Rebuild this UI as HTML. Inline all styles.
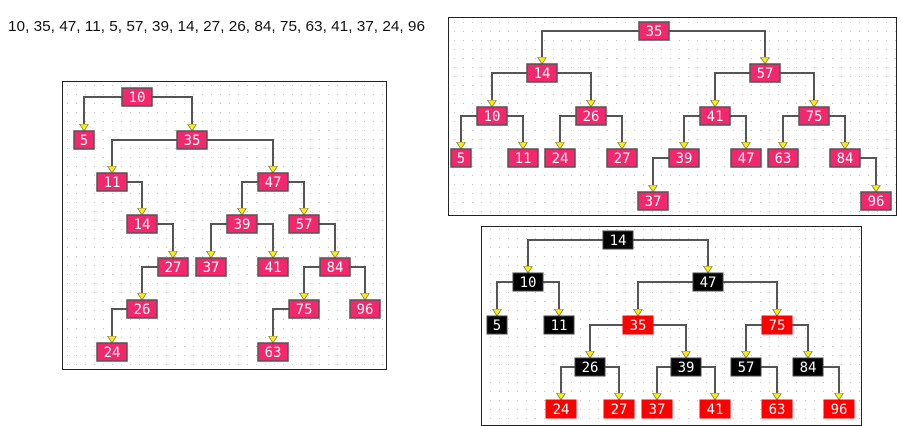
<!DOCTYPE html>
<html><head><meta charset="utf-8"><style>
html,body{margin:0;padding:0;background:#fff;width:902px;height:426px;overflow:hidden}
svg{display:block}
.e{fill:none;stroke:#555;stroke-width:2;marker-end:url(#ar)}
.p rect{fill:#f4266c;stroke:#555;stroke-width:1.5}
.b rect{fill:#000;stroke:#444;stroke-width:1}
.r rect{fill:#ff0000;stroke:#ff0000;stroke-width:1}
text.n{font-family:"DejaVu Sans Mono","Liberation Mono",monospace;font-size:14px;fill:#fff;text-anchor:middle}
</style></head><body>
<svg width="902" height="426" viewBox="0 0 902 426" xmlns="http://www.w3.org/2000/svg">
<defs>
<pattern id="dots" width="9" height="9" patternUnits="userSpaceOnUse"><rect x="4" y="4" width="1" height="1" fill="#c8c8c8"/></pattern>
<marker id="ar" markerUnits="userSpaceOnUse" markerWidth="9" markerHeight="10" refX="7" refY="4.5" orient="auto"><path d="M0,0 L7,4.5 L0,9 z" fill="#ffee00" stroke="#777" stroke-width="0.8"/></marker>
</defs>
<text x="8" y="31" font-family="Liberation Sans, sans-serif" font-size="15" fill="#111" textLength="417" lengthAdjust="spacingAndGlyphs">10, 35, 47, 11, 5, 57, 39, 14, 27, 26, 84, 75, 63, 41, 37, 24, 96</text>

<rect x="62.5" y="81.5" width="324" height="288" fill="url(#dots)" stroke="#222"/>
<rect x="448.5" y="17.5" width="448" height="198" fill="url(#dots)" stroke="#222"/>
<rect x="481.5" y="226.5" width="380" height="199" fill="url(#dots)" stroke="#222"/>

<path class="e" d="M137 97H84V131"/><path class="e" d="M137 97H192V131"/>
<path class="e" d="M192 140H112V173"/><path class="e" d="M192 140H273V173"/>
<path class="e" d="M112 182H142V215"/><path class="e" d="M142 224H173V258"/>
<path class="e" d="M173 267H142V300"/><path class="e" d="M142 309H112V343"/>
<path class="e" d="M273 182H242V215"/><path class="e" d="M273 182H304V215"/>
<path class="e" d="M242 224H211V258"/><path class="e" d="M242 224H273V258"/>
<path class="e" d="M304 224H335V258"/><path class="e" d="M335 267H304V300"/>
<path class="e" d="M335 267H365V300"/><path class="e" d="M304 309H273V343"/>

<path class="e" d="M654 31H542V64"/><path class="e" d="M654 31H765V64"/>
<path class="e" d="M542 73H492V107"/><path class="e" d="M542 73H591V107"/>
<path class="e" d="M492 116H461V149"/><path class="e" d="M492 116H523V149"/>
<path class="e" d="M591 116H560V149"/><path class="e" d="M591 116H622V149"/>
<path class="e" d="M765 73H715V107"/><path class="e" d="M765 73H814V107"/>
<path class="e" d="M715 116H684V149"/><path class="e" d="M715 116H746V149"/>
<path class="e" d="M684 158H653V192"/><path class="e" d="M814 116H783V149"/>
<path class="e" d="M814 116H845V149"/><path class="e" d="M845 158H876V192"/>

<path class="e" d="M618 240H528V273"/><path class="e" d="M618 240H708V273"/>
<path class="e" d="M528 282H497V316"/><path class="e" d="M528 282H559V316"/>
<path class="e" d="M708 282H638V316"/><path class="e" d="M708 282H777V316"/>
<path class="e" d="M638 325H590V358"/><path class="e" d="M638 325H686V358"/>
<path class="e" d="M777 325H746V358"/><path class="e" d="M777 325H808V358"/>
<path class="e" d="M590 367H561V400"/><path class="e" d="M590 367H619V400"/>
<path class="e" d="M686 367H657V400"/><path class="e" d="M686 367H715V400"/>
<path class="e" d="M746 367H777V400"/><path class="e" d="M808 367H839V400"/>

<g class="p">
<rect x="122" y="88" width="30" height="18"/><text class="n" x="137" y="102">10</text>
<rect x="74" y="131" width="20" height="18"/><text class="n" x="84" y="145">5</text>
<rect x="177" y="131" width="30" height="18"/><text class="n" x="192" y="145">35</text>
<rect x="97" y="173" width="30" height="18"/><text class="n" x="112" y="187">11</text>
<rect x="258" y="173" width="30" height="18"/><text class="n" x="273" y="187">47</text>
<rect x="127" y="215" width="30" height="18"/><text class="n" x="142" y="229">14</text>
<rect x="227" y="215" width="30" height="18"/><text class="n" x="242" y="229">39</text>
<rect x="289" y="215" width="30" height="18"/><text class="n" x="304" y="229">57</text>
<rect x="158" y="258" width="30" height="18"/><text class="n" x="173" y="272">27</text>
<rect x="196" y="258" width="30" height="18"/><text class="n" x="211" y="272">37</text>
<rect x="258" y="258" width="30" height="18"/><text class="n" x="273" y="272">41</text>
<rect x="320" y="258" width="30" height="18"/><text class="n" x="335" y="272">84</text>
<rect x="127" y="300" width="30" height="18"/><text class="n" x="142" y="314">26</text>
<rect x="289" y="300" width="30" height="18"/><text class="n" x="304" y="314">75</text>
<rect x="350" y="300" width="30" height="18"/><text class="n" x="365" y="314">96</text>
<rect x="97" y="343" width="30" height="18"/><text class="n" x="112" y="357">24</text>
<rect x="258" y="343" width="30" height="18"/><text class="n" x="273" y="357">63</text>
</g>

<g class="p">
<rect x="639" y="22" width="30" height="18"/><text class="n" x="654" y="36">35</text>
<rect x="527" y="64" width="30" height="18"/><text class="n" x="542" y="78">14</text>
<rect x="750" y="64" width="30" height="18"/><text class="n" x="765" y="78">57</text>
<rect x="477" y="107" width="30" height="18"/><text class="n" x="492" y="121">10</text>
<rect x="576" y="107" width="30" height="18"/><text class="n" x="591" y="121">26</text>
<rect x="700" y="107" width="30" height="18"/><text class="n" x="715" y="121">41</text>
<rect x="799" y="107" width="30" height="18"/><text class="n" x="814" y="121">75</text>
<rect x="451" y="149" width="20" height="18"/><text class="n" x="461" y="163">5</text>
<rect x="508" y="149" width="30" height="18"/><text class="n" x="523" y="163">11</text>
<rect x="545" y="149" width="30" height="18"/><text class="n" x="560" y="163">24</text>
<rect x="607" y="149" width="30" height="18"/><text class="n" x="622" y="163">27</text>
<rect x="669" y="149" width="30" height="18"/><text class="n" x="684" y="163">39</text>
<rect x="731" y="149" width="30" height="18"/><text class="n" x="746" y="163">47</text>
<rect x="768" y="149" width="30" height="18"/><text class="n" x="783" y="163">63</text>
<rect x="830" y="149" width="30" height="18"/><text class="n" x="845" y="163">84</text>
<rect x="638" y="192" width="30" height="18"/><text class="n" x="653" y="206">37</text>
<rect x="861" y="192" width="30" height="18"/><text class="n" x="876" y="206">96</text>
</g>

<g class="b">
<rect x="603" y="231" width="30" height="18"/><text class="n" x="618" y="245">14</text>
<rect x="513" y="273" width="30" height="18"/><text class="n" x="528" y="287">10</text>
<rect x="693" y="273" width="30" height="18"/><text class="n" x="708" y="287">47</text>
<rect x="487" y="316" width="20" height="18"/><text class="n" x="497" y="330">5</text>
<rect x="544" y="316" width="30" height="18"/><text class="n" x="559" y="330">11</text>
<rect x="575" y="358" width="30" height="18"/><text class="n" x="590" y="372">26</text>
<rect x="671" y="358" width="30" height="18"/><text class="n" x="686" y="372">39</text>
<rect x="731" y="358" width="30" height="18"/><text class="n" x="746" y="372">57</text>
<rect x="793" y="358" width="30" height="18"/><text class="n" x="808" y="372">84</text>
</g>
<g class="r">
<rect x="623" y="316" width="30" height="18"/><text class="n" x="638" y="330">35</text>
<rect x="762" y="316" width="30" height="18"/><text class="n" x="777" y="330">75</text>
<rect x="546" y="400" width="30" height="18"/><text class="n" x="561" y="414">24</text>
<rect x="604" y="400" width="30" height="18"/><text class="n" x="619" y="414">27</text>
<rect x="642" y="400" width="30" height="18"/><text class="n" x="657" y="414">37</text>
<rect x="700" y="400" width="30" height="18"/><text class="n" x="715" y="414">41</text>
<rect x="762" y="400" width="30" height="18"/><text class="n" x="777" y="414">63</text>
<rect x="824" y="400" width="30" height="18"/><text class="n" x="839" y="414">96</text>
</g>
</svg>
</body></html>
